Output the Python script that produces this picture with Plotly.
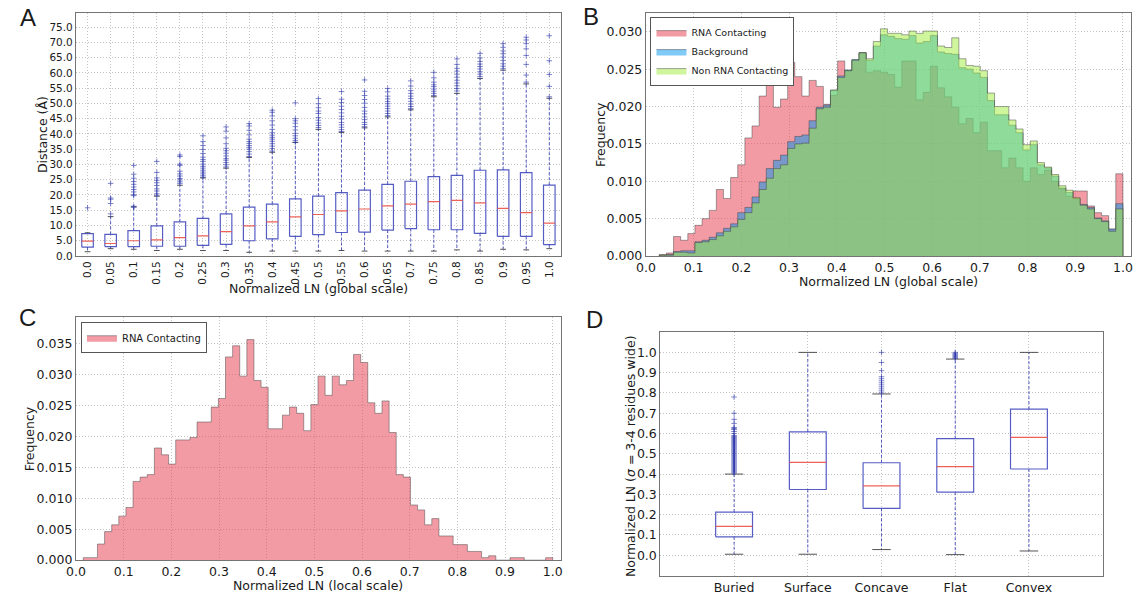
import numpy as np
import plotly.graph_objects as go

# ---------------- Panel A: distance vs normalized LN (global scale) ----------------
A_LABELS = ["0.0", "0.05", "0.1", "0.15", "0.2", "0.25", "0.3", "0.35", "0.4", "0.45", "0.5",
            "0.55", "0.6", "0.65", "0.7", "0.75", "0.8", "0.85", "0.9", "0.95", "1.0"]
A_Q1 = [2.9, 3.1, 3.1, 3.2, 3.2, 3.5, 3.8, 5.0, 5.6, 6.4, 7.0, 7.7, 7.8, 8.5, 9.0, 8.6, 8.6, 7.4, 6.4, 6.4, 3.7]
A_MED = [4.9, 4.1, 5.0, 5.3, 6.0, 6.6, 8.0, 9.9, 11.2, 12.8, 13.6, 14.8, 15.4, 16.4, 17.0, 17.8, 18.2, 17.4, 15.6, 14.2, 10.8]
A_Q3 = [7.3, 7.1, 8.3, 9.9, 11.2, 12.3, 13.8, 16.0, 17.0, 18.7, 19.6, 20.8, 21.6, 23.5, 24.5, 26.0, 26.4, 28.1, 28.2, 27.3, 23.2]
A_LO = [1.4, 2.4, 2.2, 1.8, 2.2, 1.8, 1.8, 1.2, 1.6, 1.6, 1.6, 1.8, 1.6, 1.6, 1.6, 1.6, 2.0, 1.6, 2.2, 2.0, 2.4]
A_HI = [7.6, 12.9, 16.1, 19.6, 23.2, 25.6, 28.8, 32.3, 34.0, 37.2, 41.5, 40.5, 42.0, 45.6, 47.9, 52.2, 53.3, 58.2, 60.9, 56.4, 51.7]
A_FLIERS = [
    [15.8],
    [13.8, 17.2, 18.6, 19.0, 23.8],
    [16.0, 16.3, 19.8, 20.1, 21.0, 21.8, 22.6, 23.5, 24.4, 25.5, 26.8, 29.7],
    [19.9, 20.4, 21.3, 22.0, 23.1, 24.0, 24.8, 25.6, 27.4, 31.0],
    [23.8, 24.3, 24.9, 25.4, 26.2, 26.9, 27.8, 29.7, 30.1, 32.6, 33.1],
    [25.8, 26.3, 26.9, 27.5, 28.1, 28.8, 29.4, 30.1, 31.0, 31.6, 32.4, 33.6, 34.9, 36.2, 37.5, 39.4],
    [29.2, 29.9, 30.6, 31.4, 31.9, 32.8, 33.7, 34.5, 35.3, 36.8, 38.7, 40.9, 42.3],
    [32.6, 33.4, 34.2, 35.0, 35.6, 36.2, 36.9, 37.5, 38.3, 39.7, 41.2, 42.6, 43.4],
    [34.4, 35.2, 36.0, 36.8, 37.6, 38.3, 38.9, 39.6, 40.4, 41.5, 42.9, 44.3, 45.9, 47.1, 47.8],
    [37.3, 37.9, 38.6, 39.4, 40.2, 41.3, 42.4, 43.5, 44.3, 45.0, 50.2],
    [42.1, 42.8, 43.6, 44.5, 45.4, 46.7, 47.5, 48.6, 49.9, 51.6],
    [40.8, 41.4, 42.2, 43.0, 43.8, 44.9, 45.8, 46.9, 48.0, 49.1, 50.3, 51.4, 53.9],
    [42.4, 43.1, 43.8, 44.7, 45.6, 46.6, 47.5, 48.7, 50.1, 51.3, 52.6, 54.0, 57.7],
    [46.0, 46.7, 47.5, 48.3, 49.1, 49.9, 50.6, 51.5, 52.4, 53.8, 54.9],
    [48.3, 49.0, 49.8, 50.7, 51.6, 52.4, 53.3, 54.2, 55.7, 57.4],
    [52.6, 53.3, 54.0, 54.7, 55.5, 56.1, 57.0, 58.4, 60.2],
    [54.1, 54.9, 55.8, 56.7, 57.6, 58.6, 59.6, 60.6, 61.5, 62.8, 64.6],
    [58.8, 59.6, 60.4, 61.3, 62.1, 62.9, 63.8, 64.9, 66.4],
    [61.4, 62.2, 63.0, 64.1, 65.2, 66.3, 67.2, 68.4, 69.6],
    [57.0, 59.3, 62.8, 65.7, 67.9, 69.6, 70.8, 71.7],
    [52.2, 55.6, 59.5, 64.0, 72.2],
]

# ---------------- Panel B: global-scale LN histograms (normalized frequency) ----------------
B_RANGE = (0.028, 1.0)
B_RNA = [0.0002, 0.0004, 0.0026, 0.0021, 0.0030, 0.0041, 0.0050, 0.0061, 0.0089, 0.0077,
         0.0105, 0.0122, 0.0158, 0.0174, 0.0214, 0.0233, 0.0199, 0.0210, 0.0259, 0.0240,
         0.0214, 0.0235, 0.0227, 0.0203, 0.0215, 0.0261, 0.0248, 0.0262, 0.0272, 0.0246,
         0.0248, 0.0246, 0.0243, 0.0226, 0.0261, 0.0261, 0.0209, 0.0219, 0.0254, 0.0225,
         0.0213, 0.0199, 0.0177, 0.0184, 0.0165, 0.0179, 0.0141, 0.0141, 0.0118, 0.0131,
         0.0118, 0.0100, 0.0118, 0.0109, 0.0115, 0.0100, 0.0090, 0.0080, 0.0087, 0.0087,
         0.0067, 0.0058, 0.0054, 0.0036, 0.0110]
B_BACKGROUND = [0.0001, 0.0002, 0.0006, 0.0007, 0.0007, 0.0019, 0.0021, 0.0025, 0.0031, 0.0037,
                0.0043, 0.0058, 0.0065, 0.0079, 0.0099, 0.0117, 0.0128, 0.0135, 0.0153, 0.0160,
                0.0162, 0.0181, 0.0199, 0.0202, 0.0222, 0.0241, 0.0249, 0.0263, 0.0272, 0.0262,
                0.0281, 0.0296, 0.0294, 0.0291, 0.0290, 0.0295, 0.0285, 0.0287, 0.0295, 0.0273,
                0.0271, 0.0270, 0.0252, 0.0250, 0.0245, 0.0239, 0.0208, 0.0189, 0.0189, 0.0175,
                0.0165, 0.0142, 0.0149, 0.0122, 0.0118, 0.0107, 0.0091, 0.0085, 0.0077, 0.0069,
                0.0065, 0.0051, 0.0047, 0.0036, 0.0070]
B_NON_RNA = [0.0001, 0.0001, 0.0005, 0.0005, 0.0004, 0.0018, 0.0019, 0.0022, 0.0027, 0.0033,
             0.0039, 0.0049, 0.0058, 0.0071, 0.0089, 0.0104, 0.0117, 0.0122, 0.0144, 0.0150,
             0.0151, 0.0171, 0.0197, 0.0199, 0.0222, 0.0239, 0.0248, 0.0262, 0.0272, 0.0264,
             0.0287, 0.0304, 0.0298, 0.0298, 0.0296, 0.0301, 0.0298, 0.0301, 0.0301, 0.0281,
             0.0279, 0.0292, 0.0264, 0.0255, 0.0254, 0.0248, 0.0218, 0.0200, 0.0200, 0.0182,
             0.0170, 0.0149, 0.0154, 0.0125, 0.0119, 0.0109, 0.0094, 0.0088, 0.0078, 0.0068,
             0.0063, 0.0050, 0.0046, 0.0033, 0.0063]

# ---------------- Panel C: local-scale LN histogram of RNA-contacting residues ----------------
C_RANGE = (0.0152, 1.0)
C_RNA = [0.0004, 0.0004, 0.0026, 0.0046, 0.0057, 0.0071, 0.0085, 0.0127, 0.0134, 0.0138,
         0.0181, 0.0170, 0.0155, 0.0194, 0.0194, 0.0198, 0.0223, 0.0223, 0.0247, 0.0261,
         0.0328, 0.0346, 0.0297, 0.0356, 0.0290, 0.0279, 0.0212, 0.0212, 0.0234, 0.0247,
         0.0237, 0.0209, 0.0251, 0.0297, 0.0266, 0.0297, 0.0283, 0.0290, 0.0332, 0.0319,
         0.0254, 0.0237, 0.0257, 0.0206, 0.0138, 0.0134, 0.0089, 0.0081, 0.0057, 0.0067,
         0.0039, 0.0039, 0.0025, 0.0025, 0.0014, 0.0014, 0.0004, 0.0007, 0.0000, 0.0000,
         0.0004, 0.0004, 0.0000, 0.0000, 0.0000, 0.0004]

# ---------------- Panel D: LN by surface class ----------------
D_LABELS = ["Buried", "Surface", "Concave", "Flat", "Convex"]
D_Q1 = [0.091, 0.324, 0.231, 0.311, 0.425]
D_MED = [0.142, 0.458, 0.342, 0.437, 0.581]
D_Q3 = [0.213, 0.608, 0.456, 0.575, 0.720]
D_LO = [0.005, 0.005, 0.028, 0.003, 0.021]
D_HI = [0.400, 1.000, 0.795, 0.967, 1.000]
D_FLIERS = [
    [0.405, 0.41, 0.415, 0.42, 0.425, 0.43, 0.435, 0.44, 0.445, 0.45, 0.455, 0.46, 0.465, 0.47,
     0.475, 0.48, 0.485, 0.49, 0.495, 0.50, 0.505, 0.51, 0.515, 0.52, 0.525, 0.53, 0.535, 0.54,
     0.545, 0.55, 0.555, 0.56, 0.565, 0.57, 0.575, 0.58, 0.585, 0.59, 0.60, 0.61, 0.62, 0.625,
     0.63, 0.65, 0.67, 0.70, 0.78],
    [],
    [0.80, 0.81, 0.82, 0.83, 0.84, 0.85, 0.86, 0.87, 0.88, 0.91, 0.95, 1.0],
    [0.97, 0.975, 0.98, 0.985, 0.99, 0.995, 1.0],
    [],
]

FONT = "DejaVu Sans"
W, H = 1138, 602
BOX_BLUE = "rgba(55,65,185,0.85)"
FLIER_BLUE = "rgba(45,55,170,0.6)"
MED_RED = "rgba(235,80,70,0.9)"
CAP_GREY = "rgba(40,40,40,0.8)"
PINK = "rgba(229,55,75,0.5)"
BLUE = "rgba(0,150,240,0.5)"
YELLOW = "rgba(160,235,60,0.5)"
EDGE = "rgba(60,60,60,0.45)"


def px_x(p):
    return p / W


def px_y(p):
    return 1 - p / H


def add_boxplot(fig, q1, med, q3, lo, hi, fliers, xa, ya):
    pos = np.arange(1, len(q1) + 1)
    half, cap = 0.25, 0.125
    bx, by, mx, my, wx, wy, cx, cy, fx, fy = [], [], [], [], [], [], [], [], [], []
    for p, a, m, b, l, h, fl in zip(pos, q1, med, q3, lo, hi, fliers):
        bx += [p - half, p + half, p + half, p - half, p - half, None]
        by += [a, a, b, b, a, None]
        mx += [p - half, p + half, None]
        my += [m, m, None]
        wx += [p, p, None, p, p, None]
        wy += [a, l, None, b, h, None]
        cx += [p - cap, p + cap, None, p - cap, p + cap, None]
        cy += [l, l, None, h, h, None]
        fx += [p] * len(fl)
        fy += list(fl)
    common = dict(xaxis=xa, yaxis=ya, showlegend=False, hoverinfo="skip")
    fig.add_trace(go.Scatter(x=wx, y=wy, mode="lines",
                             line=dict(color=BOX_BLUE, width=1, dash="3px,2px"), **common))
    fig.add_trace(go.Scatter(x=cx, y=cy, mode="lines",
                             line=dict(color=CAP_GREY, width=1), **common))
    fig.add_trace(go.Scatter(x=bx, y=by, mode="lines",
                             line=dict(color=BOX_BLUE, width=1.2), **common))
    fig.add_trace(go.Scatter(x=mx, y=my, mode="lines",
                             line=dict(color=MED_RED, width=1.2), **common))
    fig.add_trace(go.Scatter(x=fx, y=fy, mode="markers",
                             marker=dict(symbol="cross-thin", size=4,
                                         line=dict(color=FLIER_BLUE, width=1)), **common))


def step_path(counts, lo, hi):
    # closed step outline: up the left edge, across each bin, down the right edge
    edges = np.linspace(lo, hi, len(counts) + 1)
    xs = [edges[0], edges[0]] + list(edges[1:]) + [edges[-1]]
    ys = [0.0] + list(counts) + [counts[-1], 0.0]
    return xs, ys


def add_hist(fig, counts, rng, name, fill, xa, ya, legend):
    xs, ys = step_path(counts, *rng)
    fig.add_trace(go.Scatter(
        x=xs, y=ys, mode="lines", line=dict(shape="hv", color=EDGE, width=1),
        fill="tozeroy", fillcolor=fill, name=name, xaxis=xa, yaxis=ya, legend=legend,
        hoverinfo="skip"))


fig = go.Figure()

# Panel A
add_boxplot(fig, A_Q1, A_MED, A_Q3, A_LO, A_HI, A_FLIERS, "x", "y")

# Panel B
add_hist(fig, B_RNA, B_RANGE, "RNA Contacting", PINK, "x2", "y2", "legend")
add_hist(fig, B_BACKGROUND, B_RANGE, "Background", BLUE, "x2", "y2", "legend")
add_hist(fig, B_NON_RNA, B_RANGE, "Non RNA Contacting", YELLOW, "x2", "y2", "legend")

# Panel C
add_hist(fig, C_RNA, C_RANGE, "RNA Contacting", PINK, "x3", "y3", "legend2")

# Panel D
add_boxplot(fig, D_Q1, D_MED, D_Q3, D_LO, D_HI, D_FLIERS, "x4", "y4")

frame = dict(showline=True, mirror=True, linecolor="#747474", linewidth=1.2,
             showgrid=True, gridcolor="#c4c4c4", griddash="1px,2px", gridwidth=1,
             zeroline=False, ticks="", color="#1a1a1a")

dom_top = (px_y(259), px_y(13.3))
dom_bot_c = (px_y(566.7), px_y(320.7))
dom_bot_d = (px_y(582.3), px_y(336))
TEN = [0, 0.1, 0.2, 0.3, 0.4, 0.5, 0.6, 0.7, 0.8, 0.9, 1.0]

fig.update_layout(
    width=W, height=H, margin=dict(l=0, r=0, t=0, b=0),
    paper_bgcolor="white", plot_bgcolor="white",
    font=dict(family=FONT, color="#1a1a1a"),
    xaxis=dict(frame, domain=[px_x(66.7), px_x(556.7)], anchor="y", range=[0.5, 21.5],
               tickvals=list(range(1, 22)), ticktext=A_LABELS, tickangle=-90,
               tickfont=dict(size=10.5)),
    yaxis=dict(frame, domain=list(dom_top), anchor="x", range=[0, 79.6],
               tickvals=[0, 5, 10, 15, 20, 25, 30, 35, 40, 45, 50, 55, 60, 65, 70, 75],
               tickformat=".1f", tickfont=dict(size=10.5)),
    xaxis2=dict(frame, domain=[px_x(642.7), px_x(1133)], anchor="y2", range=[0, 1.017],
                tickvals=TEN, tickformat=".1f", tickfont=dict(size=12.5)),
    yaxis2=dict(frame, domain=list(dom_top), anchor="x2", range=[0, 0.0325],
                tickvals=[0, 0.005, 0.01, 0.015, 0.02, 0.025, 0.03],
                tickformat=".3f", tickfont=dict(size=12.5)),
    xaxis3=dict(frame, domain=[px_x(66.7), px_x(556.7)], anchor="y3", range=[0, 1.017],
                tickvals=TEN, tickformat=".1f", tickfont=dict(size=12.5)),
    yaxis3=dict(frame, domain=list(dom_bot_c), anchor="x3", range=[0, 0.03925],
                tickvals=[0, 0.005, 0.01, 0.015, 0.02, 0.025, 0.03, 0.035],
                tickformat=".3f", tickfont=dict(size=12.5)),
    xaxis4=dict(frame, domain=[px_x(657.3), px_x(1104.3)], anchor="y4", range=[0, 6],
                tickvals=[1, 2, 3, 4, 5], ticktext=D_LABELS, tickfont=dict(size=12.5)),
    yaxis4=dict(frame, domain=list(dom_bot_d), anchor="x4", range=[-0.1, 1.1],
                tickvals=TEN, tickformat=".1f", tickfont=dict(size=12.5)),
    legend=dict(x=px_x(647.3), y=px_y(17.3), xanchor="left", yanchor="top",
                bgcolor="white", bordercolor="#555", borderwidth=1,
                font=dict(size=9.5, family=FONT), tracegroupgap=0),
    legend2=dict(x=px_x(71.7), y=px_y(326), xanchor="left", yanchor="top",
                 bgcolor="white", bordercolor="#555", borderwidth=1,
                 font=dict(size=10, family=FONT)),
)


def label(text, x, y, size=12.5, angle=0, family=FONT):
    fig.add_annotation(text=text, x=px_x(x), y=px_y(y), xref="paper", yref="paper",
                       showarrow=False, textangle=angle, xanchor="center", yanchor="middle",
                       font=dict(size=size, family=family, color="#1a1a1a"))


label("Normalized LN (global scale)", 311.7, 292)
label("Distance (Å)", 33, 136, angle=-90)
label("Normalized LN (global scale)", 887.9, 285)
label("Frequency", 597, 136, angle=-90)
label("Normalized LN (local scale)", 311.7, 592)
label("Frequency", 20, 443.7, angle=-90)
label("Normalized LN (<i>σ</i> = 3-4 residues wide)", 627, 461, angle=-90)

for letter, x, y in [("A", 18, 17.5), ("B", 587, 17), ("C", 18, 321.5), ("D", 591, 323)]:
    label(letter, x, y, size=24, family="Liberation Sans")

fig.write_html("out.html", config={"displayModeBar": False})
